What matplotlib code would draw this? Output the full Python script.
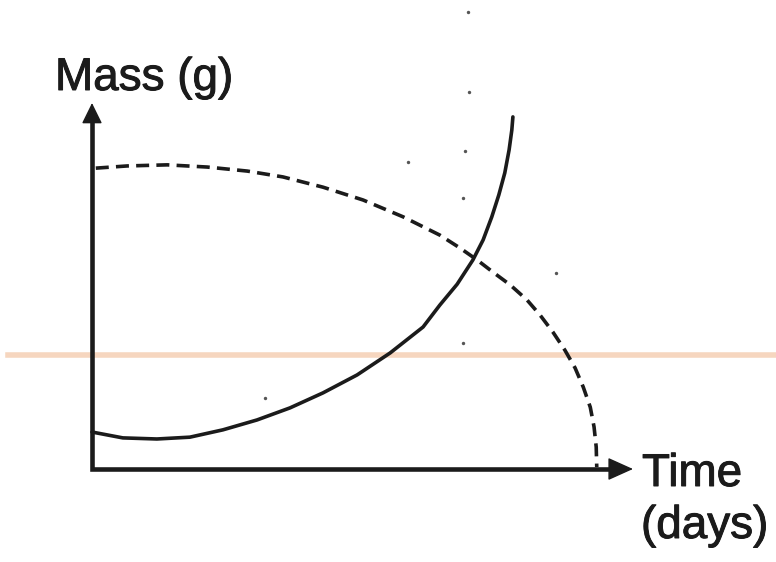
"""Sketch of mass vs time: one curve rising, one falling (scanned worksheet look)."""

import matplotlib
matplotlib.use('Agg')
import matplotlib.pyplot as plt
import matplotlib.patheffects as pe
from matplotlib.lines import Line2D


# curve readings, time on 0..10, mass on 0..10 (arbitrary units)
solid_time = [0.00, 0.57, 1.20, 1.81, 2.42, 3.05, 3.66, 4.27, 4.90, 5.51,
              6.12, 6.43, 6.75, 7.04, 7.23, 7.39, 7.52, 7.63, 7.71, 7.76, 7.78]
solid_mass = [1.01, 0.85, 0.82, 0.87, 1.07, 1.34, 1.67, 2.08, 2.57, 3.17,
              3.88, 4.48, 5.05, 5.71, 6.26, 6.89, 7.49, 8.09, 8.72, 9.26, 9.62]

dashed_time = [0.07, 0.65, 1.39, 2.13, 2.87, 3.53, 4.27, 5.01, 5.75, 6.43,
               6.80, 7.12, 7.41, 7.73, 8.04, 8.28, 8.52, 8.74, 8.93, 9.08,
               9.21, 9.28, 9.32, 9.33]
dashed_mass = [8.22, 8.28, 8.31, 8.25, 8.14, 7.98, 7.70, 7.35, 6.89, 6.39,
               6.04, 5.71, 5.38, 5.03, 4.62, 4.21, 3.74, 3.25, 2.76, 2.24,
               1.69, 1.15, 0.60, 0.05]

# small scan specks
speck_time = [6.95, 6.97, 6.89, 6.86, 5.84, 8.58, 3.20, 6.86]
speck_mass = [12.5, 10.3, 8.7, 7.4, 8.4, 5.35, 1.95, 3.45]

y_label = "Mass (g)"
x_label = ["Time", "(days)"]

W, H = 776, 562
INK = "#1b1b1b"


def fx(px):
    return px / W


def fy(py):
    return 1 - py / H


fig = plt.figure(figsize=(W / 100, H / 100), dpi=100)
fig.patch.set_facecolor("white")

# faint orange scan line across the page
fig.add_artist(Line2D([fx(8), fx(776)], [fy(355), fy(355)], color="#f6d6bf",
                      lw=4, zorder=-1))

ax = fig.add_axes([fx(92), fy(469), fx(633) - fx(92), fy(103) - fy(469)])
ax.set_xlim(0, 10)
ax.set_ylim(0, 10)
ax.axis("off")
ax.patch.set_visible(False)

# axes drawn as arrows
ax.plot([0, 0, 9.7], [9.6, 0, 0], color=INK, lw=3.3,
        solid_joinstyle="miter", solid_capstyle="butt", clip_on=False)
ax.annotate("", xy=(0, 10), xytext=(0, 9.4),
            arrowprops=dict(arrowstyle="-|>,head_length=0.65,head_width=0.32",
                            color=INK, lw=1, mutation_scale=20,
                            shrinkA=0, shrinkB=0),
            annotation_clip=False)
ax.annotate("", xy=(10, 0), xytext=(9.5, 0),
            arrowprops=dict(arrowstyle="-|>,head_length=0.8,head_width=0.36",
                            color=INK, lw=1, mutation_scale=20,
                            shrinkA=0, shrinkB=0),
            annotation_clip=False)

ax.plot(solid_time, solid_mass, color=INK, lw=2.6, clip_on=False,
        solid_capstyle="round", solid_joinstyle="round")
ax.plot(dashed_time, dashed_mass, color=INK, lw=2.6, ls=(0, (3.6, 2.0)),
        clip_on=False)
ax.scatter(speck_time, speck_mass, s=6, color="#555555", clip_on=False,
           linewidths=0)

font = ["Liberation Sans", "DejaVu Sans"]
stroke = [pe.withStroke(linewidth=0.7, foreground=INK)]
fig.text(fx(55), fy(90), y_label, fontsize=33, family=font, color=INK,
         va="baseline", ha="left", path_effects=stroke)
fig.text(fx(642), fy(486), x_label[0], fontsize=33, family=font, color=INK,
         va="baseline", ha="left", path_effects=stroke)
fig.text(fx(641), fy(538), x_label[1], fontsize=33, family=font, color=INK,
         va="baseline", ha="left", path_effects=stroke)

fig.savefig("out.png", dpi=100)
plt.close(fig)
